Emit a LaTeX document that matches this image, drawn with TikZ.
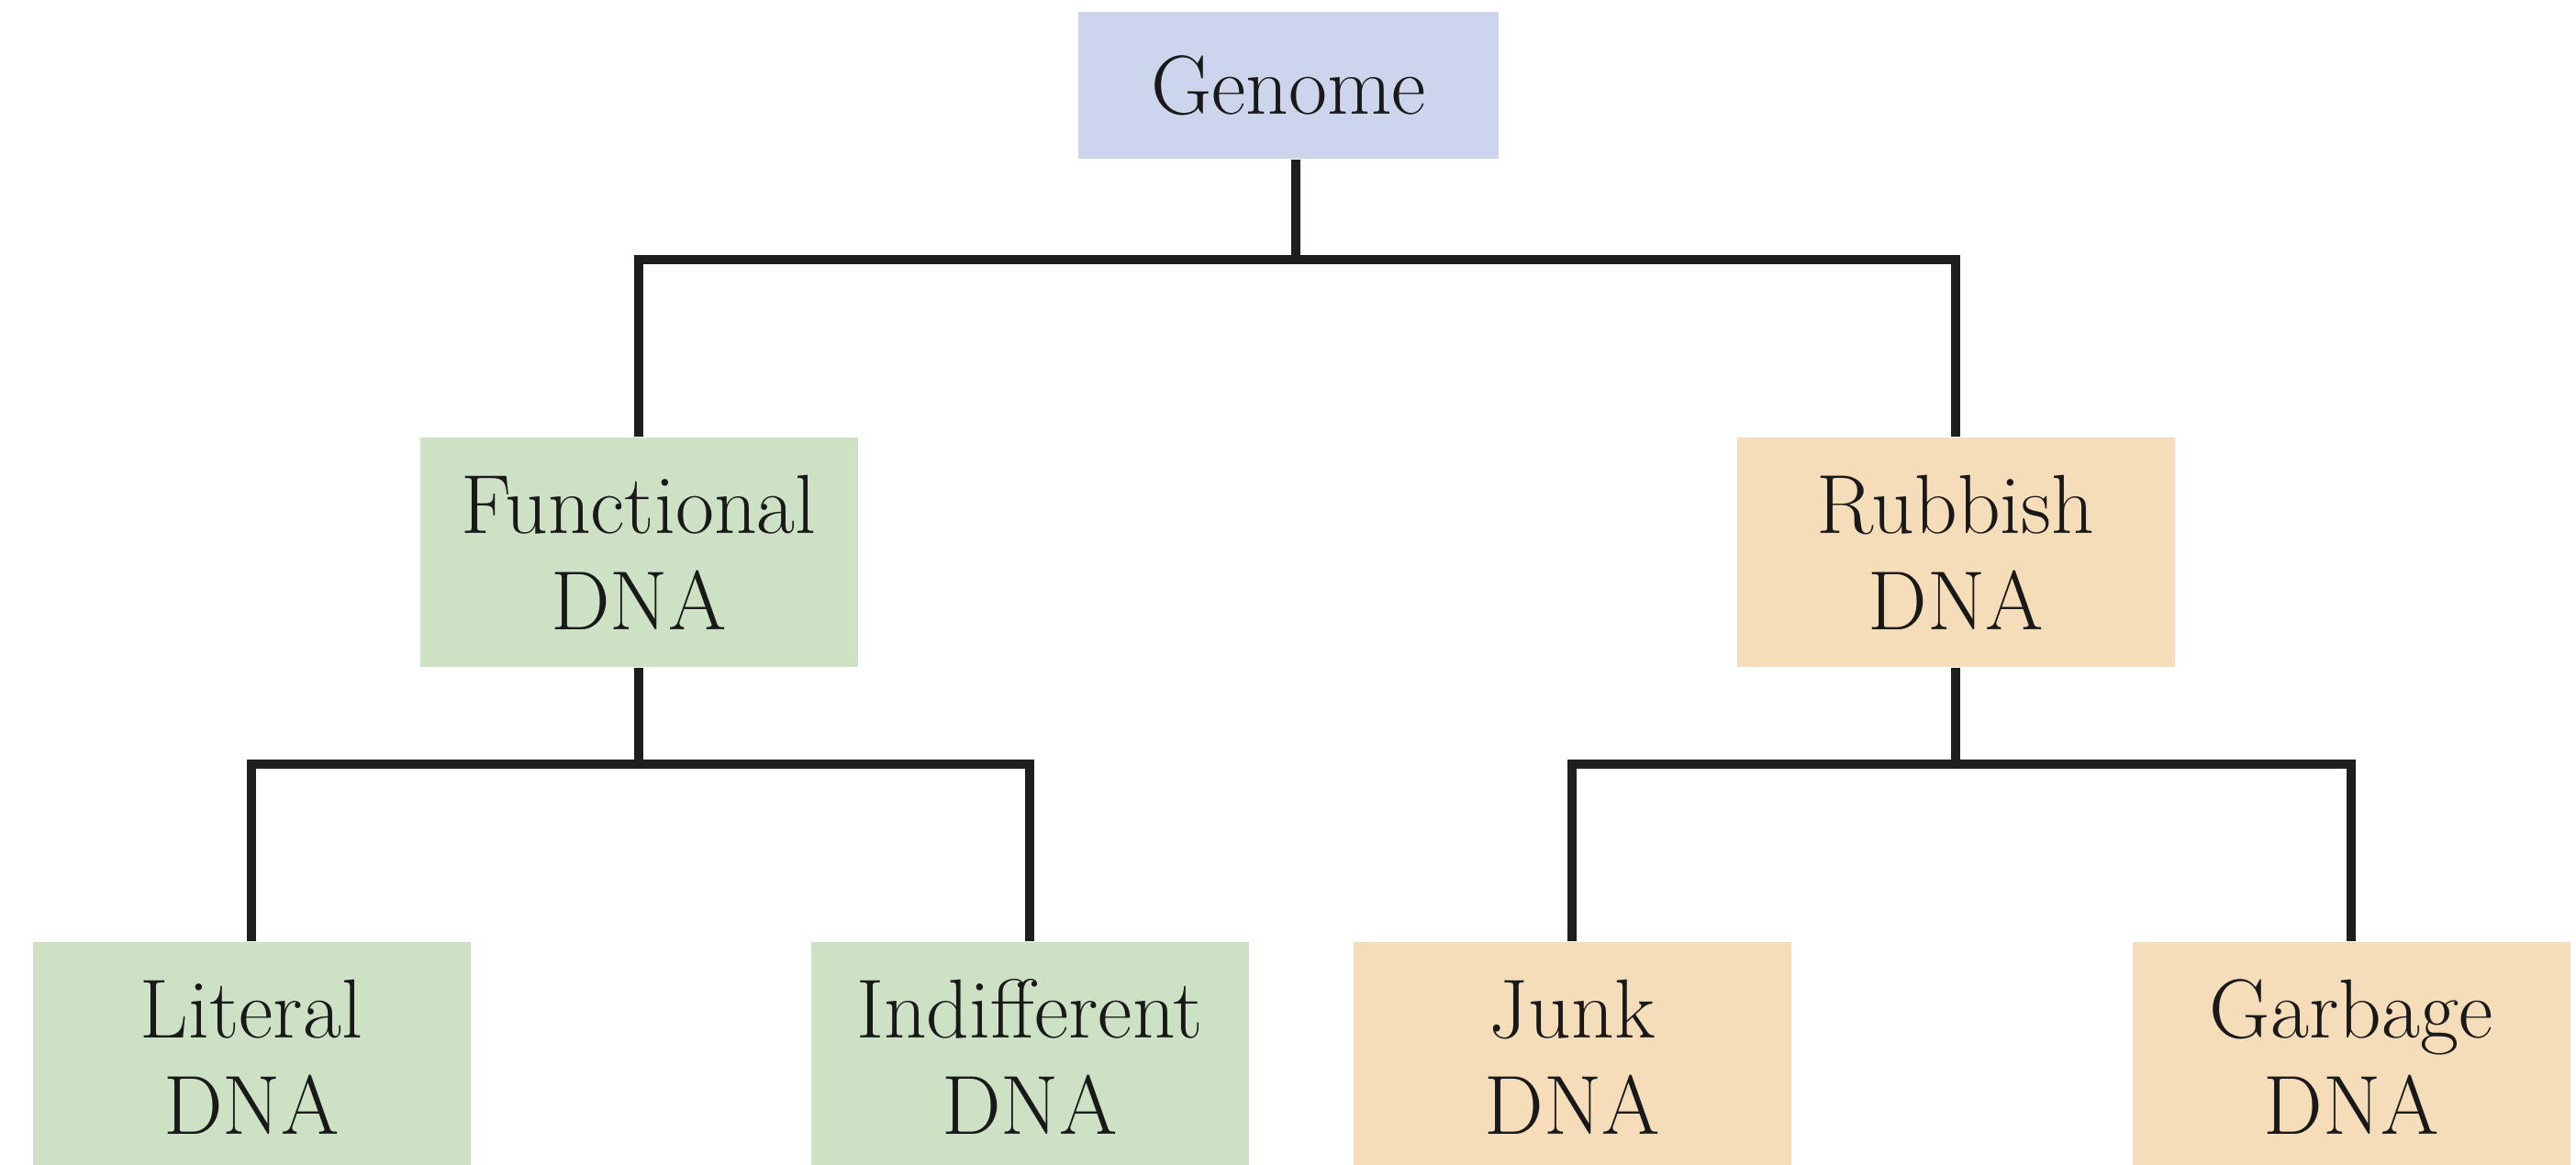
\documentclass[tikz,border=0pt]{standalone}
\usepackage{fontspec}

\definecolor{genomeblue}{RGB}{204,213,236}
\definecolor{funcgreen}{RGB}{205,225,197}
\definecolor{rubbishtan}{RGB}{246,221,186}
\definecolor{linegray}{RGB}{30,30,30}

\begin{document}
\begin{tikzpicture}[
    box/.style={minimum width=4.77cm, minimum height=2.5cm, inner sep=0pt,
        align=center, font=\fontsize{26}{30}\selectfont, text=black!90},
    tree/.style={line width=0.1cm, draw=linegray}
]
    \useasboundingbox (0,0) rectangle (28.07,12.69);

    % top level
    \node[box, fill=genomeblue, minimum width=4.58cm, minimum height=1.6cm] (G) at (14.04,11.76) {Genome};

    % second level
    \node[box, fill=funcgreen] (F) at (6.96,6.67) {Functional\\DNA};
    \node[box, fill=rubbishtan] (R) at (21.31,6.67) {Rubbish\\DNA};

    % third level (cut off at the bottom edge)
    \node[box, fill=funcgreen] (L) at (2.74,1.17) {Literal\\DNA};
    \node[box, fill=funcgreen] (I) at (11.22,1.17) {Indifferent\\DNA};
    \node[box, fill=rubbishtan] (J) at (17.13,1.17) {Junk\\DNA};
    \node[box, fill=rubbishtan] (Ga) at (25.62,1.17) {Garbage\\DNA};

    % branch points
    \coordinate (B1) at (14.12,9.86);
    \coordinate (B2) at (6.96,4.36);
    \coordinate (B3) at (21.31,4.36);

    \draw[tree] (G.south -| B1) -- (B1);
    \draw[tree] (F.north) |- (B1) -| (R.north);

    \draw[tree] (F.south) -- (B2);
    \draw[tree] (L.north) |- (B2) -| (I.north);

    \draw[tree] (R.south) -- (B3);
    \draw[tree] (J.north) |- (B3) -| (Ga.north);
\end{tikzpicture}
\end{document}
